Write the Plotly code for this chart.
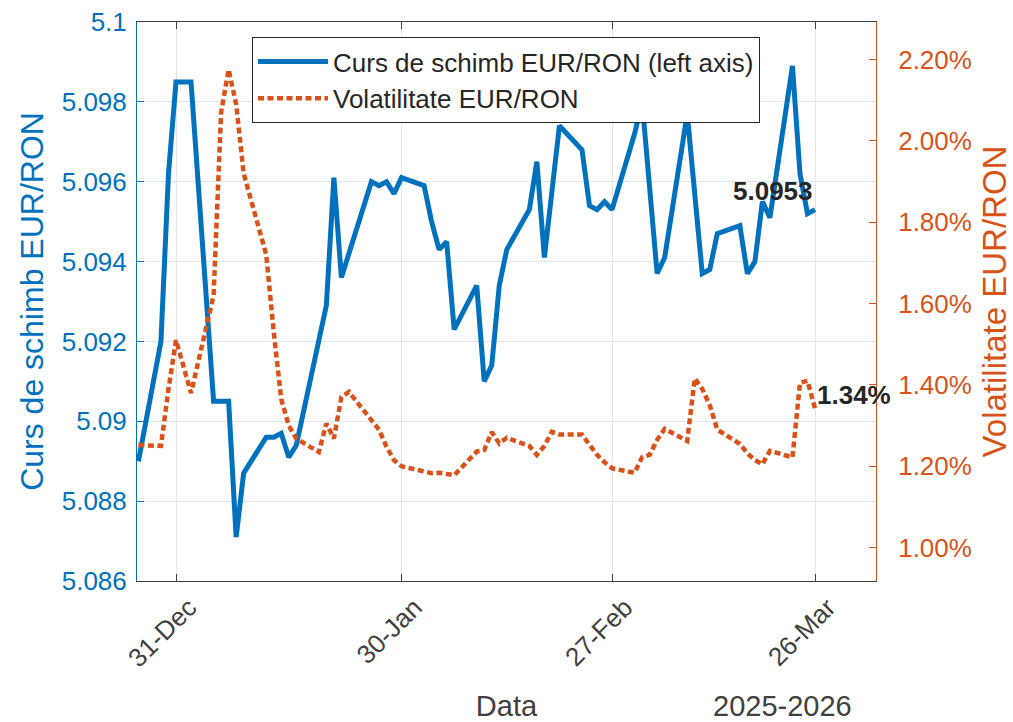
import plotly.graph_objects as go

# ---------------- data ----------------
dates = [
    "2025-12-26", "2025-12-29", "2025-12-30", "2025-12-31",
    "2026-01-01", "2026-01-02", "2026-01-05", "2026-01-06", "2026-01-07", "2026-01-08", "2026-01-09",
    "2026-01-12", "2026-01-13", "2026-01-14", "2026-01-15", "2026-01-16",
    "2026-01-19", "2026-01-20", "2026-01-21", "2026-01-22", "2026-01-23",
    "2026-01-26", "2026-01-27", "2026-01-28", "2026-01-29", "2026-01-30",
    "2026-02-02", "2026-02-03", "2026-02-04", "2026-02-05", "2026-02-06",
    "2026-02-09", "2026-02-10", "2026-02-11", "2026-02-12", "2026-02-13",
    "2026-02-16", "2026-02-17", "2026-02-18", "2026-02-19", "2026-02-20",
    "2026-02-23", "2026-02-24", "2026-02-25", "2026-02-26", "2026-02-27",
    "2026-03-02", "2026-03-03", "2026-03-04", "2026-03-05", "2026-03-06",
    "2026-03-09", "2026-03-10", "2026-03-11", "2026-03-12", "2026-03-13",
    "2026-03-16", "2026-03-17", "2026-03-18", "2026-03-19", "2026-03-20",
    "2026-03-23", "2026-03-24", "2026-03-25", "2026-03-26",
]

rate = [
    5.0890, 5.0920, 5.0962, 5.0985,
    5.0985, 5.0985, 5.0905, 5.0905, 5.0905, 5.0871, 5.0887,
    5.0896, 5.0896, 5.0897, 5.0891, 5.0894,
    5.0921, 5.0929, 5.0961, 5.0936, 5.0942,
    5.0960, 5.0959, 5.0960, 5.0957, 5.0961,
    5.0959, 5.0950, 5.0943, 5.0945, 5.0923,
    5.0934, 5.0910, 5.0914, 5.0934, 5.0943,
    5.0953, 5.0965, 5.0941, 5.0957, 5.0974,
    5.0968, 5.0954, 5.0953, 5.0955, 5.0953,
    5.0972, 5.0980, 5.0958, 5.0937, 5.0941,
    5.0977, 5.0957, 5.0937, 5.0938, 5.0947,
    5.0949, 5.0937, 5.0940, 5.0955, 5.0951,
    5.0989, 5.0962, 5.0952, 5.0953,
]

volatility = [
    1.252, 1.250, 1.390, 1.510,
    1.445, 1.380, 1.620, 2.070, 2.175, 2.090, 1.920,
    1.720, 1.530, 1.365, 1.300, 1.268,
    1.235, 1.305, 1.268, 1.370, 1.383,
    1.312, 1.290, 1.248, 1.215, 1.200,
    1.186, 1.183, 1.184, 1.182, 1.178,
    1.236, 1.240, 1.284, 1.256, 1.270,
    1.250, 1.228, 1.250, 1.285, 1.278,
    1.278, 1.255, 1.228, 1.210, 1.195,
    1.184, 1.222, 1.228, 1.265, 1.292,
    1.262, 1.416, 1.390, 1.350, 1.290,
    1.255, 1.232, 1.215, 1.205, 1.238,
    1.222, 1.405, 1.410, 1.342,
]

x_tick_vals = ["2025-12-31", "2026-01-30", "2026-02-27", "2026-03-26"]
x_tick_text = ["31-Dec", "30-Jan", "27-Feb", "26-Mar"]
left_tick_vals = [5.086, 5.088, 5.090, 5.092, 5.094, 5.096, 5.098, 5.100]
left_tick_text = ["5.086", "5.088", "5.09", "5.092", "5.094", "5.096", "5.098", "5.1"]
right_tick_vals = [1.0, 1.2, 1.4, 1.6, 1.8, 2.0, 2.2]
right_tick_text = ["1.00%", "1.20%", "1.40%", "1.60%", "1.80%", "2.00%", "2.20%"]

name_rate = "Curs de schimb EUR/RON (left axis)"
name_vol = "Volatilitate EUR/RON"
year_label = "2025-2026"

# ---------------- style ----------------
BLUE = "#0072BD"
ORANGE = "#D95319"
DARK = "#404040"
FONT = "Liberation Sans, Arial, Helvetica, sans-serif"

fig = go.Figure()
fig.add_trace(go.Scatter(
    x=dates, y=rate, mode="lines", name=name_rate, yaxis="y",
    line=dict(color=BLUE, width=5),
))
fig.add_trace(go.Scatter(
    x=dates, y=volatility, mode="lines", name=name_vol, yaxis="y2",
    line=dict(color=ORANGE, width=4.5, dash="6px,3.5px"),
))

fig.add_annotation(
    x=dates[-1], y=rate[-1], xref="x", yref="y",
    text=f"{rate[-1]:.4f}", showarrow=False,
    xanchor="right", yanchor="bottom", yshift=2,
    font=dict(family=FONT, size=26, color="#262626", weight="bold"),
)
fig.add_annotation(
    x=dates[-1], y=volatility[-1], xref="x", yref="y2",
    text=f"{volatility[-1]:.2f}%", showarrow=False,
    xanchor="left", yanchor="bottom", yshift=-3,
    font=dict(family=FONT, size=26, color="#262626", weight="bold"),
)
fig.add_annotation(
    x=0.874, y=-0.223, xref="paper", yref="paper",
    text=year_label, showarrow=False, xanchor="center", yanchor="middle",
    font=dict(family=FONT, size=29, color=DARK),
)

fig.update_layout(
    width=1013, height=722,
    margin=dict(l=137, r=137, t=22, b=141),
    paper_bgcolor="white", plot_bgcolor="white",
    font=dict(family=FONT, size=26, color=DARK),
    showlegend=True,
    legend=dict(
        x=0.1556, y=0.973, xanchor="left", yanchor="top",
        bgcolor="white", bordercolor="#262626", borderwidth=1,
        font=dict(family=FONT, size=26, color="#262626"),
        itemwidth=70, tracegroupgap=0,
    ),
    xaxis=dict(
        type="date", range=["2025-12-25 19:30", "2026-04-03 02:40"],
        automargin=False,
        tickmode="array", tickvals=x_tick_vals, ticktext=x_tick_text,
        tickangle=-45, ticks="inside", ticklen=7, tickcolor=DARK,
        ticklabelshift=13, ticklabeloverflow="allow",
        showline=True, linecolor=DARK, linewidth=1, mirror="ticks",
        showgrid=True, gridcolor="#e4e4e4", gridwidth=1, zeroline=False,
        tickfont=dict(family=FONT, size=26, color=DARK),
        title=dict(text="Data", standoff=23, font=dict(family=FONT, size=29, color=DARK)),
    ),
    yaxis=dict(
        range=[5.086, 5.100], automargin=False,
        tickmode="array", tickvals=left_tick_vals, ticktext=left_tick_text,
        ticks="inside", ticklen=7, tickcolor=BLUE,
        showline=True, linecolor=BLUE, linewidth=1,
        showgrid=True, gridcolor="#dbe6f3", gridwidth=1, zeroline=False,
        tickfont=dict(family=FONT, size=26, color=BLUE),
        ticklabelstandoff=4, ticklabeloverflow="allow",
        title=dict(text="Curs de schimb EUR/RON", standoff=8, font=dict(family=FONT, size=32, color=BLUE)),
    ),
    yaxis2=dict(
        overlaying="y", side="right", range=[0.918, 2.292], automargin=False,
        tickmode="array", tickvals=right_tick_vals, ticktext=right_tick_text,
        ticks="inside", ticklen=7, tickcolor=ORANGE,
        showline=True, linecolor=ORANGE, linewidth=1,
        showgrid=False, zeroline=False,
        tickfont=dict(family=FONT, size=26, color=ORANGE),
        ticklabelstandoff=16, ticklabeloverflow="allow",
        title=dict(text="Volatilitate EUR/RON", standoff=14, font=dict(family=FONT, size=33, color=ORANGE)),
    ),
)

# remove the browser's default 8px page margin so the figure fills the window exactly
fig.write_html(
    "out.html",
    config={"displayModeBar": False},
    post_script="document.body.style.margin='0';document.body.style.overflow='hidden';",
)
